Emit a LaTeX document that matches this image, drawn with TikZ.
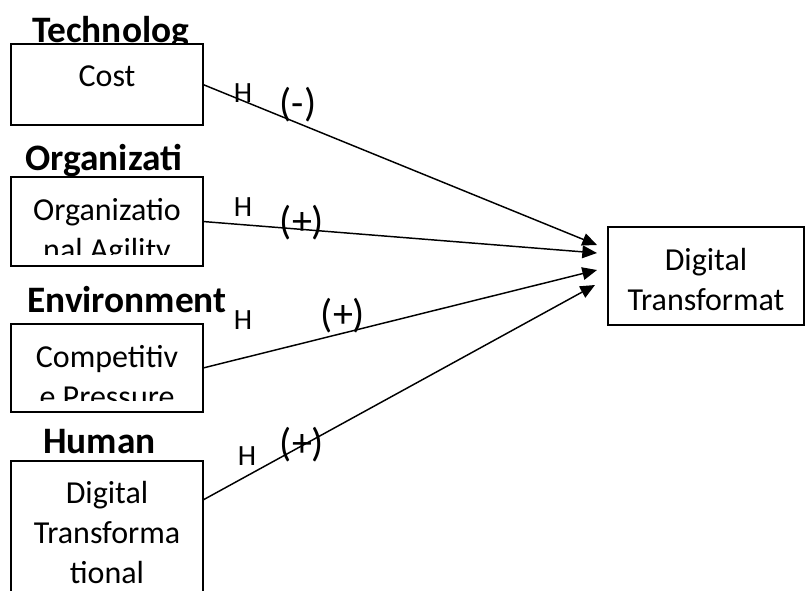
\documentclass[tikz,border=0pt]{standalone}
\usepackage{fontspec}
\setmainfont{Carlito}
\usetikzlibrary{positioning,calc,arrows.meta}
\tikzstyle{varbox}=[rectangle,draw,line width=1.5pt,fill=white,minimum width=144pt,inner sep=0pt,outer sep=0pt]
\tikzstyle{vartext}=[align=center,inner sep=0pt,anchor=north,font=\fontsize{24}{30}\selectfont]
\tikzstyle{dimtitle}=[anchor=base west,inner sep=0pt,font=\fontsize{28}{32}\selectfont\bfseries]
\tikzstyle{hyplabel}=[inner sep=0pt,font=\fontsize{22}{24}\selectfont]
\tikzstyle{signlabel}=[inner sep=0pt,font=\fontsize{30}{34}\selectfont]
\tikzstyle{arr}=[-{Triangle[length=11pt,width=9.5pt]},line width=1.1pt]

\begin{document}
\begin{tikzpicture}[x=0.75pt,y=-0.75pt]
\useasboundingbox (0,0) rectangle (805,590);
\clip (0,0) rectangle (805,590);
% dimension titles
\node[dimtitle] (tTech) at (32,42) {Technolog};
\node[dimtitle] (tOrg) at (25,170) {Organizati};
\node[dimtitle] (tEnv) at (27,312) {Environment};
\node[dimtitle] (tHum) at (43,453) {Human};
% variable boxes
\node[varbox, minimum height=60.75pt] (cost) at (107,84.5) {};
\node[varbox, minimum height=66.75pt, below=39pt of cost] (agil) {};
\node[varbox, minimum height=66pt, below=43.5pt of agil] (comp) {};
\node[varbox, minimum height=120pt, below=36.75pt of comp] (lead) {};
\node[varbox, minimum width=147pt, minimum height=73.5pt] (dt) at (706,276) {};
% box texts, cut at the inner margin
\node[vartext] (costT) at ($(cost.north)+(0,21)$) {Cost};
\begin{scope}
\clip (agil.north west) rectangle ($(agil.south east)+(0,-12)$);
\node[vartext] (agilT) at ($(agil.north)+(0,21)$) {Organizatio\\nal Agility};
\end{scope}
\begin{scope}
\clip (comp.north west) rectangle ($(comp.south east)+(0,-12)$);
\node[vartext] (compT) at ($(comp.north)+(0,21)$) {Competitiv\\e Pressure};
\end{scope}
\node[vartext] (leadT) at ($(lead.north)+(0,20)$) {Digital\\Transforma\\tional};
\node[vartext] (dtT) at ($(dt.north)+(0,21)$) {Digital\\Transformat};
% arrow ends
\coordinate (e1) at ($(dt.west)+(-11,-31)$);
\coordinate (e2) at ($(dt.west)+(-11,-23)$);
\coordinate (e3) at ($(dt.west)+(-11,-6)$);
\coordinate (e4) at ($(dt.west)+(-13,9)$);
\coordinate (s4) at ($(lead.north east)+(0,39)$);
\draw[arr] (cost.east) -- (e1);
\draw[arr] (agil.east) -- (e2);
\draw[arr] (comp.east) -- (e3);
\draw[arr] (s4) -- (e4);
% hypothesis labels
\node[hyplabel] (h1) at (243,93) {H};
\node[signlabel] (p1) at (298,105) {(-)};
\node[hyplabel] (h2) at (243,207) {H};
\node[signlabel] (p2) at (302,223) {(+)};
\node[hyplabel] (h3) at (243,320) {H};
\node[signlabel] (p3) at (343,316) {(+)};
\node[hyplabel] (h4) at (247,456) {H};
\node[signlabel] (p4) at (302,445) {(+)};
\end{tikzpicture}
\end{document}
